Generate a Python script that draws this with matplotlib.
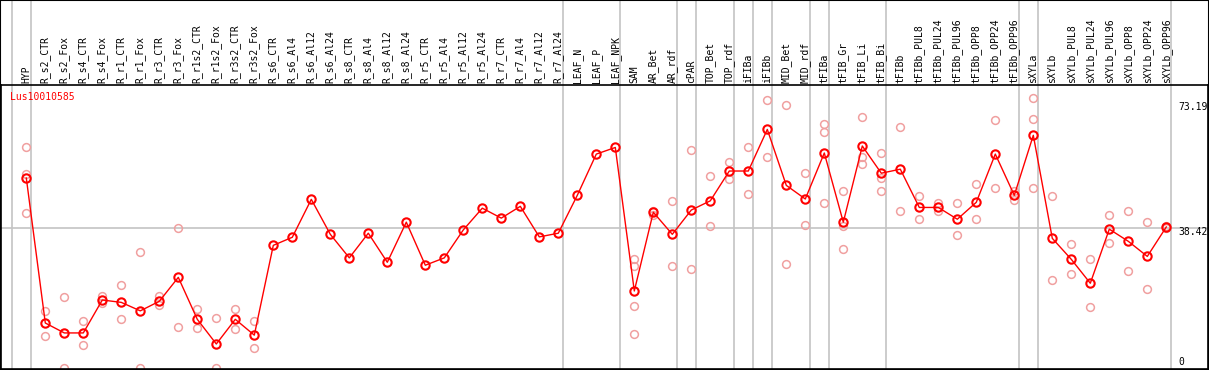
import matplotlib
matplotlib.use("Agg")
import matplotlib.pyplot as plt
from matplotlib.patches import Rectangle
from matplotlib.transforms import blended_transform_factory

# sample names, left to right
samples = ["HYP", "R_s2_CTR", "R_s2_Fox", "R_s4_CTR", "R_s4_Fox", "R_r1_CTR", "R_r1_Fox",
           "R_r3_CTR", "R_r3_Fox", "R_r1s2_CTR", "R_r1s2_Fox", "R_r3s2_CTR", "R_r3s2_Fox",
           "R_s6_CTR", "R_s6_Al4", "R_s6_Al12", "R_s6_Al24", "R_s8_CTR", "R_s8_Al4",
           "R_s8_Al12", "R_s8_Al24", "R_r5_CTR", "R_r5_Al4", "R_r5_Al12", "R_r5_Al24",
           "R_r7_CTR", "R_r7_Al4", "R_r7_Al12", "R_r7_Al24", "LEAF_N", "LEAF_P", "LEAF_NPK",
           "SAM", "AR_Bet", "AR_rdf", "cPAR", "TOP_Bet", "TOP_rdf", "iFIBa", "iFIBb",
           "MID_Bet", "MID_rdf", "tFIBa", "tFIB_Gr", "tFIB_Li", "tFIB_Bi", "tFIBb",
           "tFIBb_PUL8", "tFIBb_PUL24", "tFIBb_PUL96", "tFIBb_OPP8", "tFIBb_OPP24",
           "tFIBb_OPP96", "sXYLa", "sXYLb", "sXYLb_PUL8", "sXYLb_PUL24", "sXYLb_PUL96",
           "sXYLb_OPP8", "sXYLb_OPP24", "sXYLb_OPP96"]

# mean expression per sample
means = [51.9, 12.5, 9.8, 9.8, 18.75, 18.1, 15.8, 18.4, 24.9, 13.5, 6.8, 13.5, 9.2,
         33.6, 35.8, 46.1, 36.6, 30.2, 36.9, 29.0, 39.9, 28.2, 30.2, 37.8, 43.7,
         41.0, 44.2, 35.9, 36.9, 47.2, 58.4, 60.2,
         21.2, 42.6, 36.6, 43.2, 45.7, 53.8, 53.8, 65.1, 49.9, 46.2,
         58.7, 39.9, 60.6, 53.2, 54.3, 43.9, 43.9, 40.7, 45.3, 58.4, 47.2,
         63.5, 35.5, 29.8, 23.3, 38.0, 34.7, 30.6, 38.6]

# individual replicates (empty where none shown)
replicates = [
    [60.2, 52.9, 42.3], [15.7, 8.9], [19.6, 0.2], [13.0, 6.4], [19.9, 17.9],
    [22.8, 13.5], [31.7, 0.2], [19.9, 17.3], [38.2, 11.3], [16.2, 11.1],
    [13.8, 0.2], [16.2, 10.8], [13.0, 5.6],
    [], [], [], [], [], [], [], [], [], [], [], [], [], [], [], [],
    [], [], [],
    [29.9, 28.0, 17.0, 9.4], [43.0, 41.9], [45.7, 28.0], [59.5, 27.1],
    [52.4, 38.9], [56.3, 51.5], [60.2, 47.5], [73.0, 57.5], [71.7, 28.5],
    [53.3, 39.0], [66.6, 64.3, 45.1], [48.4, 38.9, 32.6], [68.4, 57.5, 55.6],
    [58.6, 52.0, 48.3], [65.7, 42.9], [46.9, 40.7], [45.2, 43.0], [45.0, 36.3],
    [50.2, 40.7], [67.6, 49.1], [48.5, 46.0],
    [73.6, 67.9, 49.1], [46.9, 24.1], [33.9, 25.8], [29.8, 16.8], [41.8, 34.2],
    [42.9, 26.5], [39.9, 21.7], [38.9, 38.3],
]

# group boundaries (index of last sample in each group)
group_ends = [-1, 0, 28, 31, 34, 35, 37, 38, 39, 41, 42, 45, 52, 53, 60]

gene = "Lus10010585"
ref_value = 38.42
axis_labels = ["73.19", "38.42", "0"]

W, H = 1209, 370
fig = plt.figure(figsize=(W / 100, H / 100), dpi=100)
ax = fig.add_axes([1 / W, 1 / H, 1207 / W, 284 / H])
ax.set_xlim((1 - 26.3) / 19, (1208 - 26.3) / 19)
ax.set_ylim(0, 284 / 3.68)
ax.set_xticks([])
ax.set_yticks([])
for s in ax.spines.values():
    s.set_linewidth(1.2)
    s.set_color("black")

font = "DejaVu Sans Mono"
grey = "#c4c4c4"

for g in group_ends:
    ax.axvline(g + 0.23, ymin=0, ymax=369 / 284, color=grey, lw=1.2,
               clip_on=False, zorder=1)
ax.axhline(ref_value, color=grey, lw=1.2, zorder=1)

x = list(range(len(samples)))
for i, reps in enumerate(replicates):
    if reps:
        ax.plot([i] * len(reps), reps, "o", ms=5.6, mfc="none", mec="#f0a0a0",
                mew=1.1, zorder=2)
ax.plot(x, means, "-", color="red", lw=1, zorder=3)
ax.plot(x, means, "o", ms=6.0, mfc="none", mec="red", mew=1.5, zorder=4)

tr = blended_transform_factory(ax.transData, ax.transAxes)
for i, name in enumerate(samples):
    ax.text(i, 1 + 2 / 284, name, rotation=90, ha="center", va="bottom",
            fontsize=7, family=font, transform=tr, clip_on=False)

ax.text(9 / 1207, (369 - 97) / 284, gene, color="red", fontsize=7, family=font,
        ha="left", va="center", transform=ax.transAxes)
for lab, ypx in zip(axis_labels, [106.5, 232, 362]):
    ax.text((1178 - 1) / 1207, (369 - ypx) / 284, lab, fontsize=7, family=font,
            ha="left", va="center", transform=ax.transAxes)

fig.patches.append(Rectangle((0, 0), 1, 1, transform=fig.transFigure, fill=False,
                             edgecolor="black", lw=1.5))

fig.savefig("out.png", dpi=100)
